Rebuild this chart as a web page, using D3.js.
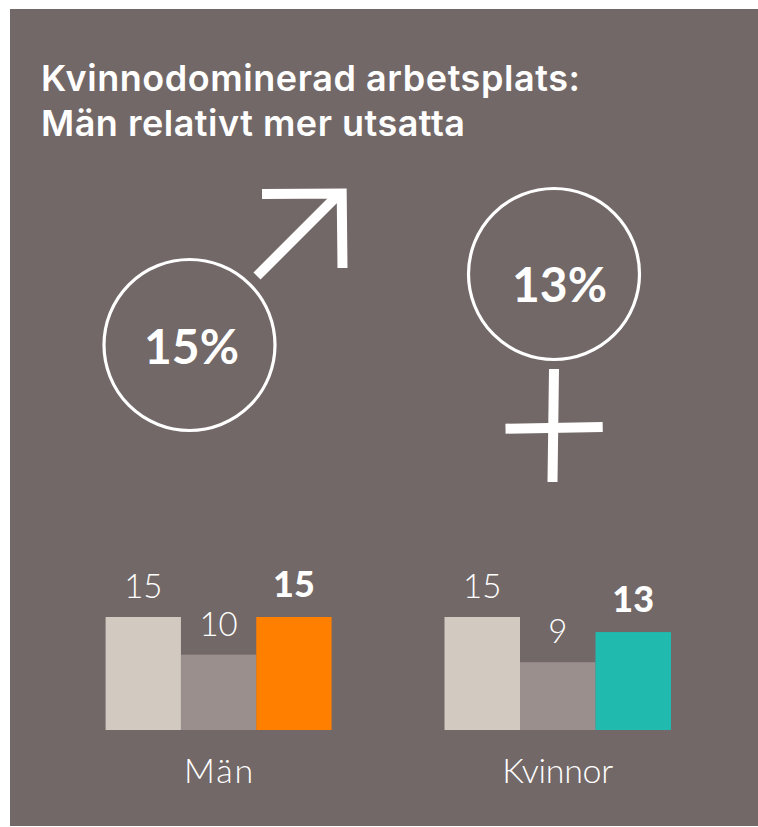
<!DOCTYPE html>
<html>
<head>
<meta charset="utf-8">
<script src="https://cdn.jsdelivr.net/npm/d3@7"></script>
<style>
  body { margin: 0; background: #fff; }
  text { font-family: Lato, sans-serif; fill: #fff; }
</style>
</head>
<body>
<div id="chart"></div>
<script>
const titleLines = ["Kvinnodominerad arbetsplats:", "Män relativt mer utsatta"]
const groups = ["Män", "Kvinnor"]
const barKeys = ["a", "b", "c"]
const manValues = [15, 10, 15]
const womanValues = [15, 9, 13]
const manColors = ["#d2cac1", "#9b8f8e", "#ff7f00"]
const womanColors = ["#d2cac1", "#9b8f8e", "#20baae"]
const bigLabels = ["15%", "13%"]

const width = 758
const height = 827
const bg = "#726867"
const baseline = 730

const svg = d3.select('#chart').append('svg').attr('width', width).attr('height', height).style('display', 'block')
svg.append('rect').attr('x', 10).attr('y', 9).attr('width', 748).attr('height', 817).attr('fill', bg)

// title, Inter is the closest to the wide round face of the original
const titleWidths = [539, 424]
svg.selectAll('.title').data(titleLines).join('text')
    .attr('class', 'title')
    .attr('x', 41)
    .attr('y', (d, i) => 91 + i * 45)
    .attr('font-size', 36)
    .attr('font-weight', 600)
    .style('font-family', 'Inter, sans-serif')
    .attr('textLength', (d, i) => titleWidths[i])
    .attr('lengthAdjust', 'spacing')
    .text(d => d)

// bars
const y = d3.scaleLinear().domain([0, 15]).range([baseline, 617])

function drawGroup(name, values, colors, x0, x1, nameWidth) {
  const x = d3.scaleBand().domain(barKeys).range([x0, x1])
  const g = svg.append('g')
  const rows = values.map((v, i) => ({ key: barKeys[i], value: v, color: colors[i], last: i === 2 }))
  g.selectAll('rect').data(rows).join('rect')
      .attr('x', d => x(d.key))
      .attr('y', d => y(d.value))
      .attr('width', x.bandwidth())
      .attr('height', d => baseline - y(d.value))
      .attr('fill', d => d.color)
  g.selectAll('.val').data(rows).join('text')
      .attr('class', 'val')
      .attr('x', d => x(d.key) + x.bandwidth() / 2)
      .attr('y', d => y(d.value) - (d.last ? 20 : 19))
      .attr('text-anchor', 'middle')
      .attr('font-size', d => d.last ? 36 : 33)
      .attr('font-weight', d => d.last ? 900 : 300)
      .text(d => d.value)
  g.append('text')
      .attr('x', (x0 + x1) / 2)
      .attr('y', 783)
      .attr('text-anchor', 'middle')
      .attr('font-size', 34)
      .attr('font-weight', 300)
      .attr('textLength', nameWidth)
      .attr('lengthAdjust', 'spacing')
      .text(name)
}
drawGroup(groups[0], manValues, manColors, 105.6, 331.6, 69)
drawGroup(groups[1], womanValues, womanColors, 444.5, 671, 111)

// gender symbols
const line = d3.line()
function symbolPath(pts, w) {
  svg.append('path').attr('d', line(pts)).attr('fill', 'none').attr('stroke', '#fff').attr('stroke-width', w)
}
svg.append('circle').attr('cx', 189.5).attr('cy', 345).attr('r', 85.5).attr('fill', 'none').attr('stroke', '#fff').attr('stroke-width', 3.2)
symbolPath([[257, 276], [339, 194]], 10)
symbolPath([[262, 194], [341.7, 193.5], [342.5, 268]], 10)

svg.append('circle').attr('cx', 554).attr('cy', 274).attr('r', 85.5).attr('fill', 'none').attr('stroke', '#fff').attr('stroke-width', 3.2)
symbolPath([[554, 369], [552.5, 482]], 10)
symbolPath([[505.5, 428.7], [602.7, 427]], 10)

svg.append('text').attr('x', 191.5).attr('y', 364).attr('text-anchor', 'middle').attr('font-size', 48).attr('font-weight', 700).text(bigLabels[0])
svg.append('text').attr('x', 559.5).attr('y', 302).attr('text-anchor', 'middle').attr('font-size', 48).attr('font-weight', 700).text(bigLabels[1])
</script>
</body>
</html>
